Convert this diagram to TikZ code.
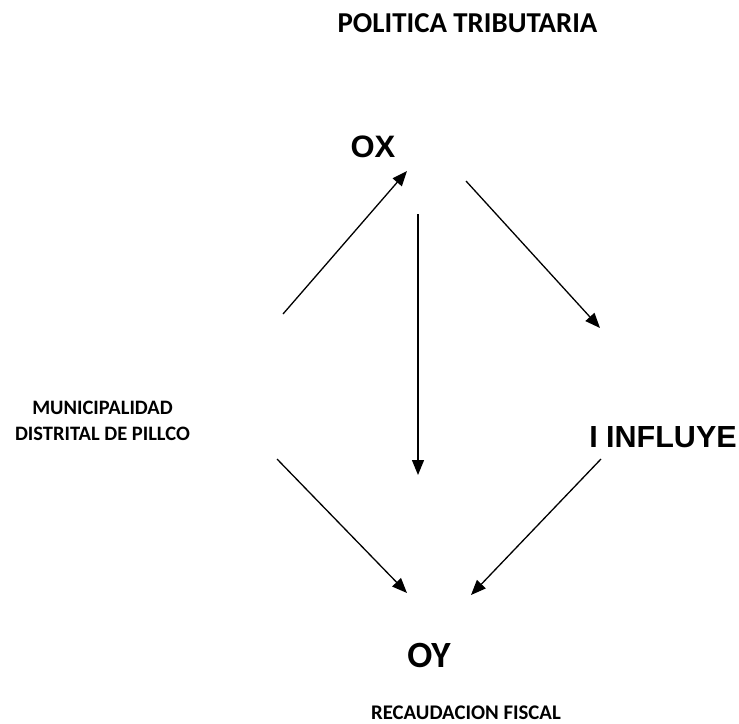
\documentclass[tikz,border=0pt]{standalone}
\usepackage{fontspec}
\setmainfont{Carlito}
\newfontfamily\arialfont{Liberation Sans}
\usetikzlibrary{arrows.meta}
\begin{document}
\begin{tikzpicture}[x=1pt,y=-1pt,
  arr/.style={line width=1.3pt,-{Triangle[length=15pt,width=12pt]}},
  lbl/.style={inner sep=0pt,anchor=base,font=\bfseries}]
\useasboundingbox (0,0) rectangle (739,723);
\node[lbl,font=\bfseries\fontsize{28.8}{32}\selectfont] (pt) at (467.5,32) {POLITICA TRIBUTARIA};
\node[lbl,font=\arialfont\bfseries\fontsize{31}{34}\selectfont] (ox) at (373,157) {OX};
\node[lbl,font=\bfseries\fontsize{20.5}{26}\selectfont,align=center] (mun) at (102.5,440) {MUNICIPALIDAD\\DISTRITAL DE PILLCO};
\node[lbl,font=\arialfont\bfseries\fontsize{30.5}{34}\selectfont] (inf) at (663,447) {I INFLUYE};
\node[lbl,font=\bfseries\fontsize{37}{40}\selectfont] (oy) at (429,667) {OY};
\node[lbl,font=\bfseries\fontsize{20.8}{24}\selectfont] (rec) at (466,719) {RECAUDACION FISCAL};
\coordinate (a1s) at (283,314); \coordinate (a1e) at (407,171);
\coordinate (a2s) at (418,214); \coordinate (a2e) at (418,475);
\coordinate (a3s) at (466,181); \coordinate (a3e) at (600,328);
\coordinate (a4s) at (277,459); \coordinate (a4e) at (407,593);
\coordinate (a5s) at (601,459); \coordinate (a5e) at (471,595);
\draw[arr] (a1s) -- (a1e);
\draw[arr] (a2s) -- (a2e);
\draw[arr] (a3s) -- (a3e);
\draw[arr] (a4s) -- (a4e);
\draw[arr] (a5s) -- (a5e);
\end{tikzpicture}
\end{document}
